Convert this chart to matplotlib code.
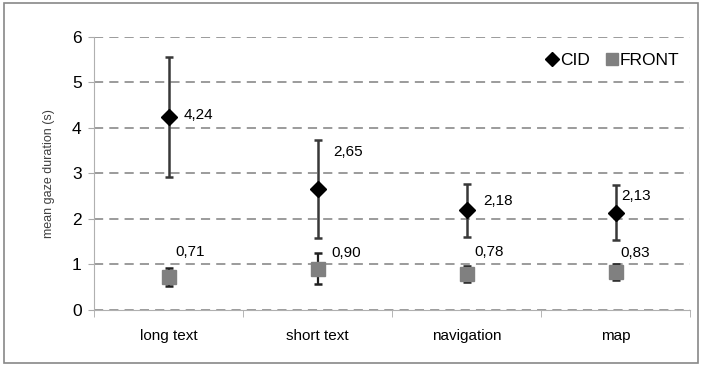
import numpy as np
import matplotlib.pyplot as plt
from matplotlib.patches import Rectangle
from matplotlib.lines import Line2D

plt.rcParams['font.family'] = ['Liberation Sans', 'DejaVu Sans']

categories = ['long text', 'short text', 'navigation', 'map']
cid_mean = [4.24, 2.65, 2.18, 2.13]
cid_err = [1.32, 1.07, 0.58, 0.61]
front_mean = [0.71, 0.90, 0.78, 0.83]
front_err = [0.20, 0.34, 0.17, 0.17]
cid_labels = ['4,24', '2,65', '2,18', '2,13']
front_labels = ['0,71', '0,90', '0,78', '0,83']

fig = plt.figure(figsize=(7.02, 3.66), dpi=100)
ax = fig.add_axes([0.134, 0.154, 0.849, 0.746])

# outer frame around the whole chart
fig.patches.append(Rectangle((0.005, 0.008), 0.99, 0.983, transform=fig.transFigure,
                             fill=False, edgecolor='#888888', linewidth=1.2))

x = np.arange(len(categories))

ax.errorbar(x, cid_mean, yerr=cid_err, fmt='D', color='black', ecolor='#383838',
            elinewidth=1.8, capsize=3, capthick=1.8, markersize=8, zorder=4)
ax.errorbar(x, front_mean, yerr=front_err, fmt='s', color='#808080', ecolor='#202020',
            elinewidth=1.6, capsize=3, capthick=1.8, markersize=9.5, zorder=3)

# value labels (offsets in points)
cid_off = [(10.8, 1.4), (11.5, 27), (12, 7), (4.3, 12)]
front_off = [(5, 18), (10, 11.5), (5.8, 16), (3.6, 13.7)]
for i in range(len(categories)):
    ax.annotate(cid_labels[i], (x[i], cid_mean[i]), xytext=cid_off[i], textcoords='offset points',
                fontsize=11, va='center', ha='left')
    ax.annotate(front_labels[i], (x[i], front_mean[i]), xytext=front_off[i], textcoords='offset points',
                fontsize=11, va='center', ha='left')

ax.set_xlim(-0.5, 3.5)
ax.set_ylim(0, 6)
ax.set_yticks(np.arange(0, 7, 1))
ax.set_xticks(x)
ax.set_xticklabels(categories, fontsize=11)
ax.set_xticks(np.arange(-0.5, 3.6, 1), minor=True)
ax.tick_params(axis='x', which='major', length=0, pad=14)
ax.tick_params(axis='x', which='minor', length=5, color='#aaaaaa', direction='out')
ax.tick_params(axis='y', length=4, color='#aaaaaa', labelsize=12.5, pad=5)

ax.yaxis.grid(True, linestyle=(0, (6, 4)), color='#808080', linewidth=1.1)
ax.set_axisbelow(True)
for s in ['top', 'right']:
    ax.spines[s].set_visible(False)
ax.spines['left'].set_color('#b0b0b0')
ax.spines['bottom'].set_color('#b0b0b0')

ax.set_ylabel('mean gaze duration (s)', fontsize=9, color='#404040', labelpad=12)

handles = [Line2D([], [], marker='D', linestyle='none', color='black', markersize=7),
           Line2D([], [], marker='s', linestyle='none', color='#808080', markersize=8)]
ax.legend(handles, ['CID', 'FRONT'], loc='center right', bbox_to_anchor=(1.0, 0.914),
          frameon=False, ncol=2, fontsize=12.5, handletextpad=0.05, columnspacing=0.9,
          handlelength=0.8, borderaxespad=0.2)

fig.savefig('out.png', dpi=100)
